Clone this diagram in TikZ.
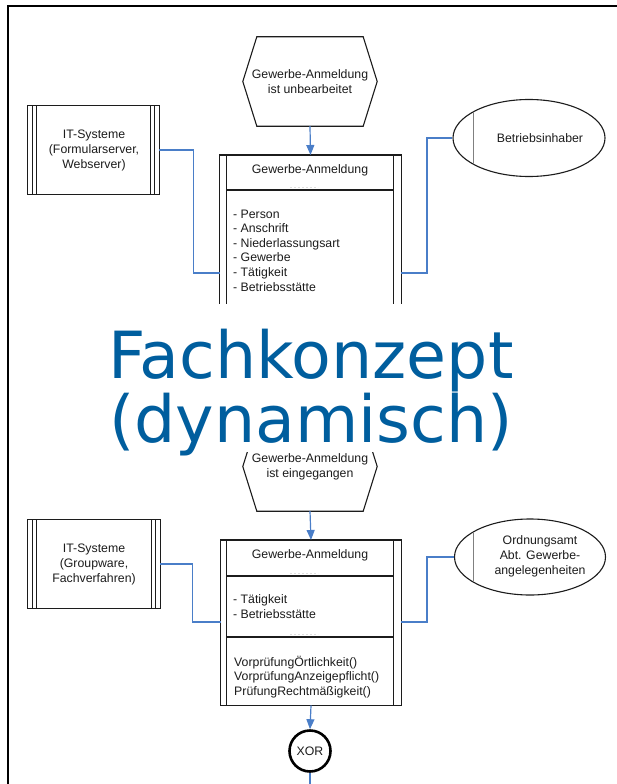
\documentclass[tikz,border=0pt]{standalone}
\usepackage{fontspec}
\setmainfont{Liberation Sans}
\newfontfamily\titlefont{DejaVu Sans}
\usetikzlibrary{arrows.meta,calc,shapes.geometric}
\definecolor{connblue}{RGB}{74,126,200}
\definecolor{titleblue}{RGB}{0,94,158}
\definecolor{ink}{RGB}{28,28,28}
\begin{document}
\begin{tikzpicture}[x=1pt,y=-1pt,
  conn/.style={draw=connblue,line width=1.2pt},
  arr/.style={conn,-{Triangle[width=8pt,length=10pt]}},
  lbl/.style={font=\fontsize{12.3}{15}\selectfont,text=ink,inner sep=0pt,align=center},
  lst/.style={font=\fontsize{12.3}{14.7}\selectfont,text=ink,inner sep=0pt,align=left,anchor=north west},
  outl/.style={draw=ink,line width=1.1pt},
  holder/.style={draw=none,inner sep=0pt},
  roleshape/.style={ellipse,outl,inner sep=0pt},
  gate/.style={circle,draw=black,line width=2.6pt,inner sep=0pt,minimum size=41pt},
  sepmark/.style={draw=gray!25,line width=0.8pt,dash pattern=on 2pt off 2pt},
  titletext/.style={anchor=base west,inner sep=0pt,text depth=0pt,text=titleblue,font=\titlefont\fontsize{65}{65}\selectfont}
]
\fill[white] (0,0) rectangle (616,784);
\useasboundingbox (0,0) rectangle (616,784);

% outer frame
\draw[black,line width=2pt] (8,790) -- (8,6) -- (620,6);

% ---------------- upper diagram ----------------
\begin{scope}
\clip (0,0) rectangle (616,303);
% event hexagon
\node[holder,minimum width=134pt,minimum height=89pt] (hex1) at (310,81.5) {};
\draw[outl] (hex1.west) -- ($(hex1.north west)+(14,0)$) -- ($(hex1.north east)+(-14,0)$)
  -- (hex1.east) -- ($(hex1.south east)+(-14,0)$) -- ($(hex1.south west)+(14,0)$) -- cycle;
\node[lbl] (hex1t) at (310,82) {Gewerbe-Anmeldung\\ist unbearbeitet};

% IT system box
\node[holder,minimum width=131pt,minimum height=88pt] (it1) at (93.5,150) {};
\draw[outl] (it1.north west) rectangle (it1.south east);
\foreach \d in {5,9} {
  \draw[outl] ($(it1.north west)+(\d,0)$) -- ($(it1.south west)+(\d,0)$);
  \draw[outl] ($(it1.north east)+(-\d,0)$) -- ($(it1.south east)+(-\d,0)$);
}
\node[lbl] (it1t) at (94,150) {IT-Systeme\\(Formularserver,\\Webserver)};

% class box
\node[holder,anchor=north,minimum width=181pt,minimum height=200pt] (box1) at (310.5,155) {};
\draw[outl] (box1.north west) rectangle (box1.south east);
\draw[outl] ($(box1.north west)+(7,0)$) -- ($(box1.south west)+(7,0)$);
\draw[outl] ($(box1.north east)+(-8,0)$) -- ($(box1.south east)+(-8,0)$);
\coordinate (s1l) at (227,190);
\coordinate (s1r) at (393,190);
\draw[outl] (s1l) -- (s1r);
\draw[sepmark] (290,187.5) -- (318,187.5);
\node[lbl] (box1t) at (310,170) {Gewerbe-Anmeldung};
\node[lst,font=\fontsize{12.3}{14.6}\selectfont] (box1a) at (233,209.5) {- Person\\- Anschrift\\- Niederlassungsart\\- Gewerbe\\- T\"atigkeit\\- Betriebsst\"atte};

% role ellipse
\node[roleshape,minimum width=152pt,minimum height=77pt] (own1) at (529,138) {};
\draw[gray,line width=1pt] (473,112) -- (473,164);
\node[lbl] (own1t) at (540,138) {Betriebsinhaber};

% connectors
\coordinate (j1) at (220,273);
\coordinate (k1) at (401,273);
\draw[conn] (it1.east) -- ++(34,0) |- (j1);
\draw[conn] (k1) -- ++(26,0) |- (own1.west);
\draw[arr] (hex1.south) -- (box1.north);
\end{scope}

% ---------------- lower diagram ----------------
\begin{scope}
\clip (0,452) rectangle (616,784);
% event hexagon
\node[holder,minimum width=134pt,minimum height=89pt] (hex2) at (310,466.5) {};
\draw[outl] (hex2.west) -- ($(hex2.north west)+(14,0)$) -- ($(hex2.north east)+(-14,0)$)
  -- (hex2.east) -- ($(hex2.south east)+(-14,0)$) -- ($(hex2.south west)+(14,0)$) -- cycle;
\node[lbl] (hex2t) at (310,466.5) {Gewerbe-Anmeldung\\ist eingegangen};

% IT system box
\node[holder,minimum width=132pt,minimum height=88pt] (it2) at (94,564) {};
\draw[outl] (it2.north west) rectangle (it2.south east);
\foreach \d in {5,9} {
  \draw[outl] ($(it2.north west)+(\d,0)$) -- ($(it2.south west)+(\d,0)$);
  \draw[outl] ($(it2.north east)+(-\d,0)$) -- ($(it2.south east)+(-\d,0)$);
}
\node[lbl] (it2t) at (94,564.5) {IT-Systeme\\(Groupware,\\Fachverfahren)};

% class box
\node[holder,anchor=north,minimum width=180pt,minimum height=165pt] (box2) at (311,540) {};
\draw[outl] (box2.north west) rectangle (box2.south east);
\draw[outl] ($(box2.north west)+(6,0)$) -- ($(box2.south west)+(6,0)$);
\draw[outl] ($(box2.north east)+(-8,0)$) -- ($(box2.south east)+(-8,0)$);
\coordinate (s2l) at (227,576);
\coordinate (s2r) at (393,576);
\coordinate (s3l) at (227,637);
\coordinate (s3r) at (393,637);
\draw[outl] (s2l) -- (s2r);
\draw[outl] (s3l) -- (s3r);
\draw[sepmark] (290,573.5) -- (318,573.5);
\draw[sepmark] (290,634.5) -- (318,634.5);
\node[lbl] (box2t) at (310,555) {Gewerbe-Anmeldung};
\node[lst] (box2a) at (233,594.5) {- T\"atigkeit\\- Betriebsst\"atte};
\node[lst,font=\fontsize{12.3}{14.5}\selectfont] (box2m) at (234,655.5) {Vorpr\"ufung\"Ortlichkeit()\\Vorpr\"ufungAnzeigepflicht()\\Pr\"ufungRechtm\"a\ss igkeit()};

% role ellipse
\node[roleshape,minimum width=151pt,minimum height=76pt] (own2) at (530,557) {};
\draw[gray,line width=1pt] (473,532) -- (473,582);
\node[lbl] (own2t) at (540,556.5) {Ordnungsamt\\Abt. Gewerbe-\\angelegenheiten};

% XOR connector
\node[gate,font=\fontsize{12.3}{15}\selectfont,text=ink] (xor) at (310,751) {XOR};
\coordinate (xend) at (310,790);

% connectors
\coordinate (j2) at (221,622);
\coordinate (k2) at (401,622);
\draw[conn] (it2.east) -- ++(32,0) |- (j2);
\draw[conn] (k2) -- ++(26,0) |- (own2.west);
\draw[arr] (hex2.south) -- (box2.north);
\draw[arr] (box2.south) -- (xor.north);
\draw[conn] (xor.south) -- (xend);
\end{scope}

% ---------------- title overlay ----------------
\node[titletext] (title1) at (108,378) {Fachkonzept};
\node[titletext] (title2) at (109,442) {(dynamisch)};
\end{tikzpicture}
\end{document}
